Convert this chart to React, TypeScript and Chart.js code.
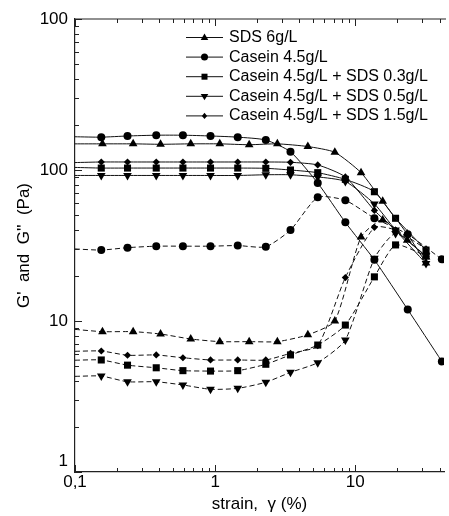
import React, { useEffect, useRef } from "react";
import { Chart, registerables } from "chart.js";

Chart.register(...registerables);

// ---- data (first point at x = 0.1 is where each curve meets the y axis; no marker) ----
const xSDS = [0.1, 0.157, 0.26, 0.408, 0.67, 1.08, 1.75, 2.78, 4.59, 7.15, 11.0, 15.7, 23.5, 32];
const sdsG1 = [149, 149, 149, 148, 149, 149, 147, 149, 143, 131, 96, 62, 37.7, 24.2];
const sdsG2 = [8.8, 8.5, 8.5, 8.2, 7.6, 7.3, 7.3, 7.3, 8.1, 10.0, 36, 46.7, 34.3, 26.5];

const xCasein = [0.1, 0.154, 0.237, 0.38, 0.589, 0.927, 1.45, 2.3, 3.45, 5.4, 8.5, 13.7, 23.7, 41.5];
const caseinG1 = [166, 165, 168, 170, 170, 168, 165, 158, 132, 82, 45, 25.4, 11.9, 5.4];
const caseinG2 = [30, 29.5, 30.6, 31.3, 31.3, 31.3, 31.6, 31, 40, 66, 63, 48, 37.5, 25.6];

const xMix = [0.1, 0.154, 0.237, 0.38, 0.589, 0.927, 1.45, 2.3, 3.45, 5.4, 8.5, 13.7, 19.4, 32];
const sds03G1 = [104, 103, 103, 103, 103, 103, 103, 102.6, 100, 96, 86.7, 71.8, 47.9, 29.5];
const sds03G2 = [5.5, 5.52, 5.1, 4.9, 4.69, 4.66, 4.69, 5.17, 5.96, 6.93, 9.4, 19.6, 31.9, 27];
const sds05G1 = [92, 92, 92, 92, 92, 92, 92, 93, 93, 90, 84, 59.6, 40, 24];
const sds05G2 = [4.3, 4.32, 3.96, 3.96, 3.77, 3.53, 3.58, 3.93, 4.57, 5.3, 7.48, 26, 38, 27];
const sds15G1 = [112, 113, 113, 113, 113, 113, 113, 113, 112.5, 108, 90, 54, 40, 26.7];
const sds15G2 = [6.3, 6.33, 5.93, 5.96, 5.71, 5.52, 5.52, 5.52, 6.11, 6.86, 19.4, 41.7, 40, 30];

const legendLabels = [
  "SDS 6g/L",
  "Casein 4.5g/L",
  "Casein 4.5g/L + SDS 0.3g/L",
  "Casein 4.5g/L + SDS 0.5g/L",
  "Casein 4.5g/L + SDS 1.5g/L",
];
const markerKinds = ["tri", "circle", "square", "invtri", "diamond"];

const xTickValues = [0.1, 1, 10];
const xTickLabels = ["0,1", "1", "10"];
const yTickValues = [1, 10, 100, 1000];
const yTickLabels: any[] = [["1", ""], "10", "100", "100"];

const FONT = "'Liberation Sans', Arial, Helvetica, sans-serif";
const INK = "#111";

function pts(xs: number[], ys: number[]) {
  return xs.map((x, i) => ({ x, y: ys[i] }));
}

const styleOf: Record<string, { pointStyle: any; r: number; rot: number }> = {
  tri: { pointStyle: "triangle", r: 5, rot: 0 },
  circle: { pointStyle: "circle", r: 4, rot: 0 },
  square: { pointStyle: "rect", r: 5, rot: 0 },
  invtri: { pointStyle: "triangle", r: 5, rot: 180 },
  diamond: { pointStyle: "rectRot", r: 3.6, rot: 0 },
};

function makeDataset(label: string, kind: string, xs: number[], ys: number[], dashed: boolean) {
  const s = styleOf[kind];
  return {
    label,
    data: pts(xs, ys),
    borderColor: INK,
    backgroundColor: INK,
    borderWidth: 1,
    borderDash: dashed ? [5, 3] : [],
    pointStyle: s.pointStyle,
    pointRotation: s.rot,
    pointRadius: (c: any) => (c.dataIndex === 0 ? 0 : s.r),
    pointBorderWidth: 0,
    pointBackgroundColor: "#000",
    pointBorderColor: "#000",
    tension: 0.2,
    fill: false,
  };
}

function drawMarker(ctx: CanvasRenderingContext2D, kind: string, x: number, y: number) {
  ctx.beginPath();
  if (kind === "tri") {
    const r = 4;
    ctx.moveTo(x, y - r);
    ctx.lineTo(x + r * 0.95, y + r * 0.6);
    ctx.lineTo(x - r * 0.95, y + r * 0.6);
    ctx.closePath();
  } else if (kind === "invtri") {
    const r = 4;
    ctx.moveTo(x, y + r);
    ctx.lineTo(x + r * 0.95, y - r * 0.6);
    ctx.lineTo(x - r * 0.95, y - r * 0.6);
    ctx.closePath();
  } else if (kind === "circle") {
    ctx.arc(x, y, 3.5, 0, Math.PI * 2);
  } else if (kind === "square") {
    ctx.rect(x - 3, y - 3, 6, 6);
  } else {
    ctx.moveTo(x, y - 3.2);
    ctx.lineTo(x + 2.6, y);
    ctx.lineTo(x, y + 3.2);
    ctx.lineTo(x - 2.6, y);
    ctx.closePath();
  }
  ctx.fill();
}

const framePlugin = {
  id: "frameAndLegend",
  afterDraw(chart: any) {
    const ctx: CanvasRenderingContext2D = chart.ctx;
    const { left, right, top, bottom } = chart.chartArea;
    const xs = chart.scales.x;
    const ys = chart.scales.y;
    ctx.save();
    ctx.strokeStyle = "#222";
    ctx.lineWidth = 1.2;
    // top frame line
    ctx.beginPath();
    ctx.moveTo(left, top);
    ctx.lineTo(right + 2, top);
    ctx.stroke();
    // x ticks (bottom & top, pointing inward)
    ctx.lineWidth = 1;
    for (let e = -1; e <= 2; e++) {
      for (let m = 1; m <= 9; m++) {
        const v = m * Math.pow(10, e);
        if (v < xs.min - 1e-9 || v > xs.max) continue;
        const px = Math.round(xs.getPixelForValue(v)) + 0.5;
        const len = m === 1 ? 7 : 4;
        ctx.beginPath();
        ctx.moveTo(px, bottom);
        ctx.lineTo(px, bottom - len);
        ctx.moveTo(px, top);
        ctx.lineTo(px, top + len);
        ctx.stroke();
      }
    }
    // y ticks (left, pointing inward)
    for (let e = 0; e <= 3; e++) {
      for (let m = 1; m <= 9; m++) {
        const v = m * Math.pow(10, e);
        if (v < ys.min - 1e-9 || v > ys.max + 1e-9) continue;
        const py = Math.round(ys.getPixelForValue(v)) + 0.5;
        const len = m === 1 ? 7 : 4;
        ctx.beginPath();
        ctx.moveTo(left, py);
        ctx.lineTo(left + len, py);
        ctx.stroke();
      }
    }
    // legend
    ctx.fillStyle = "#000";
    ctx.strokeStyle = INK;
    ctx.font = `16px ${FONT}`;
    ctx.textBaseline = "middle";
    ctx.textAlign = "left";
    legendLabels.forEach((lab, i) => {
      const y = 37.5 + i * 19.6;
      ctx.beginPath();
      ctx.moveTo(186, y);
      ctx.lineTo(223, y);
      ctx.stroke();
      drawMarker(ctx, markerKinds[i], 204.5, y);
      ctx.fillText(lab, 229, y);
    });
    ctx.restore();
  },
};

export default function App() {
  const ref = useRef<HTMLCanvasElement | null>(null);
  useEffect(() => {
    if (!ref.current) return;
    Chart.defaults.font.family = FONT;
    Chart.defaults.color = "#000";
    const chart = new Chart(ref.current, {
      type: "line",
      data: {
        datasets: [
          makeDataset("SDS 6g/L G'", "tri", xSDS, sdsG1, false),
          makeDataset("SDS 6g/L G''", "tri", xSDS, sdsG2, true),
          makeDataset("Casein 4.5g/L G'", "circle", xCasein, caseinG1, false),
          makeDataset("Casein 4.5g/L G''", "circle", xCasein, caseinG2, true),
          makeDataset("Casein 4.5g/L + SDS 0.3g/L G'", "square", xMix, sds03G1, false),
          makeDataset("Casein 4.5g/L + SDS 0.3g/L G''", "square", xMix, sds03G2, true),
          makeDataset("Casein 4.5g/L + SDS 0.5g/L G'", "invtri", xMix, sds05G1, false),
          makeDataset("Casein 4.5g/L + SDS 0.5g/L G''", "invtri", xMix, sds05G2, true),
          makeDataset("Casein 4.5g/L + SDS 1.5g/L G'", "diamond", xMix, sds15G1, false),
          makeDataset("Casein 4.5g/L + SDS 1.5g/L G''", "diamond", xMix, sds15G2, true),
        ] as any,
      },
      options: {
        responsive: false,
        animation: false,
        devicePixelRatio: 1,
        layout: { padding: { top: 19, right: 0, left: 0, bottom: 0 } },
        plugins: { legend: { display: false }, tooltip: { enabled: false } },
        scales: {
          x: {
            type: "logarithmic",
            min: 0.1,
            max: 43,
            grid: { display: false, drawTicks: false, drawOnChartArea: false },
            border: { display: true, color: "#222", width: 1.2 },
            afterBuildTicks: (s: any) => {
              s.ticks = xTickValues.map((v) => ({ value: v }));
            },
            afterFit: (s: any) => {
              s.height = 44;
            },
            ticks: {
              autoSkip: false,
              maxRotation: 0,
              padding: 0,
              color: "#000",
              font: { size: 17, family: FONT },
              callback: (v: any) => {
                const i = xTickValues.findIndex((t) => Math.abs(t - v) < 1e-9);
                return i >= 0 ? xTickLabels[i] : "";
              },
            },
            title: {
              display: true,
              text: "strain,  γ (%)",
              color: "#000",
              font: { size: 17, family: FONT },
              padding: { top: 0, bottom: 1 },
            },
          },
          y: {
            type: "logarithmic",
            min: 1,
            max: 1000,
            grid: { display: false, drawTicks: false, drawOnChartArea: false },
            border: { display: true, color: "#222", width: 1.2 },
            afterBuildTicks: (s: any) => {
              s.ticks = yTickValues.map((v) => ({ value: v }));
            },
            afterFit: (s: any) => {
              s.width = 75;
            },
            ticks: {
              autoSkip: false,
              padding: 7,
              color: "#000",
              font: { size: 17, family: FONT },
              callback: (v: any) => {
                const i = yTickValues.findIndex((t) => Math.abs(t - v) < 1e-9);
                return i >= 0 ? yTickLabels[i] : "";
              },
            },
            title: {
              display: true,
              text: "G'  and  G''  (Pa)",
              color: "#000",
              font: { size: 17, family: FONT },
              padding: { top: 14, bottom: 0 },
            },
          },
        },
      },
      plugins: [framePlugin],
    });
    return () => chart.destroy();
  }, []);
  return (
    <div style={{ position: "fixed", left: 0, top: 0, width: 449, height: 516, background: "#fff" }}>
      <canvas ref={ref} width={449} height={516} style={{ display: "block" }} />
    </div>
  );
}
